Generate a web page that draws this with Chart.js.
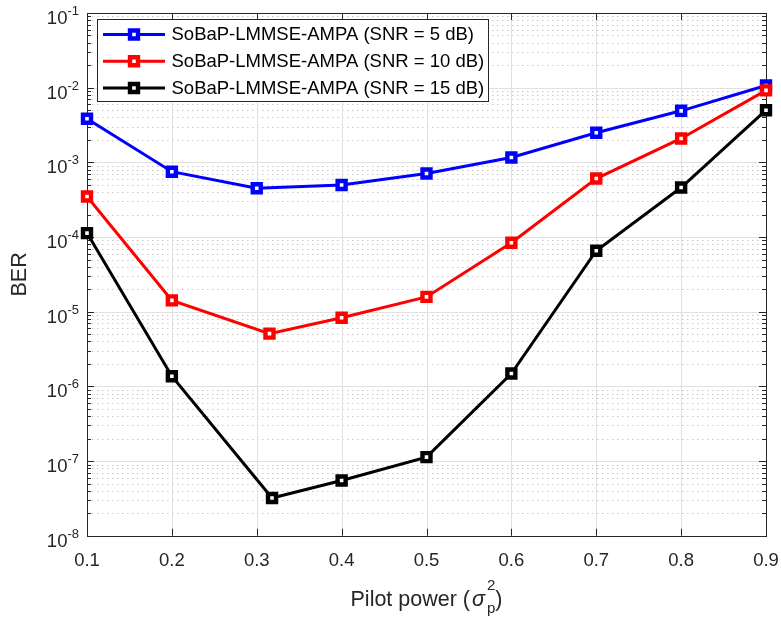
<!DOCTYPE html>
<html><head><meta charset="utf-8">
<script src="https://cdn.jsdelivr.net/npm/chart.js@4.4.1/dist/chart.umd.min.js"></script>
<style>html,body{margin:0;padding:0;background:#fff;}#wrap{width:781px;height:620px;}</style>
</head><body><div id="wrap"><canvas id="c" width="781" height="620"></canvas></div>
<script>
// ---- data ----
const xTickValues = [0.1, 0.2, 0.3, 0.4, 0.5, 0.6, 0.7, 0.8, 0.9];
const yDecadeExponents = [-8, -7, -6, -5, -4, -3, -2, -1];
const seriesLabels = [
  'SoBaP-LMMSE-AMPA (SNR = 5 dB)',
  'SoBaP-LMMSE-AMPA (SNR = 10 dB)',
  'SoBaP-LMMSE-AMPA (SNR = 15 dB)'
];
const pilotPowerSnr5  = [0.1, 0.2, 0.3,   0.4, 0.5, 0.6, 0.7, 0.8, 0.9];
const pilotPowerSnr10 = [0.1, 0.2, 0.315, 0.4, 0.5, 0.6, 0.7, 0.8, 0.9];
const pilotPowerSnr15 = [0.1, 0.2, 0.318, 0.4, 0.5, 0.6, 0.7, 0.8, 0.9];
const berSnr5  = [3.83e-3, 7.5e-4, 4.5e-4, 4.98e-4, 7.1e-4, 1.16e-3, 2.49e-3, 4.9e-3, 1.07e-2];
const berSnr10 = [3.49e-4, 1.42e-5, 5.09e-6, 8.3e-6, 1.58e-5, 8.4e-5, 6.07e-4, 2.09e-3, 9.2e-3];
const berSnr15 = [1.13e-4, 1.37e-6, 3.21e-8, 5.5e-8, 1.13e-7, 1.49e-6, 6.57e-5, 4.6e-4, 4.99e-3];
const seriesColors = ['#0000ff', '#ff0000', '#000000'];

// ---- styling ----
const FONT = '"Liberation Sans", Arial, Helvetica, sans-serif';
const AX = '#262626';
const TICK_FS = 18.5;
const LABEL_FS = 21.5;

function pts(xs, ys) { return xs.map((x, i) => ({ x: x, y: ys[i] })); }
const seriesX = [pilotPowerSnr5, pilotPowerSnr10, pilotPowerSnr15];
const seriesY = [berSnr5, berSnr10, berSnr15];

const datasets = seriesLabels.map((lab, i) => ({
  label: lab,
  data: pts(seriesX[i], seriesY[i]),
  borderColor: seriesColors[i],
  backgroundColor: '#ffffff',
  pointBorderColor: seriesColors[i],
  pointBackgroundColor: '#ffffff',
  borderWidth: 3,
  pointStyle: 'rect',
  pointRadius: 5.66,
  pointHoverRadius: 5.66,
  pointBorderWidth: 4.4,
  tension: 0,
  fill: false,
  clip: false,
  order: 3 - i
}));

const matlabAxes = {
  id: 'matlabAxes',
  beforeDraw(chart) {
    const c = chart.ctx; c.save(); c.fillStyle = '#fff'; c.fillRect(0, 0, chart.width, chart.height); c.restore();
  },
  beforeDatasetsDraw(chart) {
    const { ctx, chartArea: a, scales: { x, y } } = chart;
    ctx.save();
    ctx.lineWidth = 1;
    // minor dotted horizontal grid
    ctx.strokeStyle = '#c8c8c8';
    ctx.setLineDash([1.5, 3.5]);
    for (const e of yDecadeExponents) {
      if (e === -1) continue;
      for (let k = 2; k <= 9; k++) {
        const py = Math.round(y.getPixelForValue(k * Math.pow(10, e))) + 0.5;
        ctx.beginPath(); ctx.moveTo(a.left, py); ctx.lineTo(a.right, py); ctx.stroke();
      }
    }
    ctx.setLineDash([]);
    // major grid
    ctx.strokeStyle = '#e0e0e0';
    for (const e of yDecadeExponents) {
      const py = Math.round(y.getPixelForValue(Math.pow(10, e))) + 0.5;
      ctx.beginPath(); ctx.moveTo(a.left, py); ctx.lineTo(a.right, py); ctx.stroke();
    }
    for (const v of xTickValues) {
      const px = Math.round(x.getPixelForValue(v)) + 0.5;
      ctx.beginPath(); ctx.moveTo(px, a.top); ctx.lineTo(px, a.bottom); ctx.stroke();
    }
    // tick marks inside
    ctx.strokeStyle = AX;
    for (const v of xTickValues) {
      const px = Math.round(x.getPixelForValue(v)) + 0.5;
      ctx.beginPath(); ctx.moveTo(px, a.bottom); ctx.lineTo(px, a.bottom - 7); ctx.stroke();
      ctx.beginPath(); ctx.moveTo(px, a.top); ctx.lineTo(px, a.top + 7); ctx.stroke();
    }
    for (const e of yDecadeExponents) {
      for (let k = 1; k <= 9; k++) {
        if (e === -1 && k > 1) continue;
        const len = k === 1 ? 7 : 4;
        const py = Math.round(y.getPixelForValue(k * Math.pow(10, e))) + 0.5;
        ctx.beginPath(); ctx.moveTo(a.left, py); ctx.lineTo(a.left + len, py); ctx.stroke();
        ctx.beginPath(); ctx.moveTo(a.right, py); ctx.lineTo(a.right - len, py); ctx.stroke();
      }
    }
    // box
    ctx.strokeRect(Math.round(a.left) + 0.5, Math.round(a.top) + 0.5,
                   Math.round(a.right - a.left), Math.round(a.bottom - a.top));
    ctx.restore();
  },
  afterDatasetsDraw(chart) {
    const ctx = chart.ctx;
    ctx.save();
    // legend
    ctx.fillStyle = '#fff';
    ctx.fillRect(97.5, 19.5, 391, 82);
    ctx.strokeStyle = AX; ctx.lineWidth = 1;
    ctx.strokeRect(97.5, 19.5, 391, 82);
    const rows = [34.5, 61.3, 88];
    seriesLabels.forEach((lab, i) => {
      const ry = rows[i];
      ctx.strokeStyle = seriesColors[i]; ctx.lineWidth = 3;
      ctx.beginPath(); ctx.moveTo(103, ry); ctx.lineTo(165, ry); ctx.stroke();
      ctx.fillStyle = '#fff'; ctx.lineWidth = 4.4;
      ctx.beginPath(); ctx.rect(134 - 4, ry - 4, 8, 8); ctx.fill(); ctx.stroke();
      ctx.fillStyle = '#000';
      ctx.font = TICK_FS + 'px ' + FONT;
      ctx.textAlign = 'left'; ctx.textBaseline = 'middle';
      ctx.fillText(lab, 171.5, ry + 0.5);
    });
    ctx.restore();
  },
  afterDraw(chart) {
    const { ctx, chartArea: a, scales: { y } } = chart;
    ctx.save();
    ctx.fillStyle = AX;
    ctx.textBaseline = 'alphabetic';
    // y tick labels 10^e
    for (const e of yDecadeExponents) {
      const py = y.getPixelForValue(Math.pow(10, e));
      const expTxt = String(e);
      ctx.font = '13px ' + FONT;
      const we = ctx.measureText(expTxt).width;
      const xe = a.left - 8 - we;
      ctx.textAlign = 'left';
      ctx.fillText(expTxt, xe, py + 2);
      ctx.font = TICK_FS + 'px ' + FONT;
      ctx.textAlign = 'right';
      ctx.fillText('10', xe, py + 11);
    }
    // y axis title
    ctx.save();
    ctx.translate(20, (a.top + a.bottom) / 2);
    ctx.rotate(-Math.PI / 2);
    ctx.font = LABEL_FS + 'px ' + FONT;
    ctx.textAlign = 'center'; ctx.textBaseline = 'middle';
    ctx.fillText('BER', 0, 0);
    ctx.restore();
    // x axis title: Pilot power (σ_p^2)
    const base = 606;
    const f1 = LABEL_FS + 'px ' + FONT, fs = 'italic ' + LABEL_FS + 'px ' + FONT, fsc = '15px ' + FONT;
    ctx.font = f1; const w1 = ctx.measureText('Pilot power (').width;
    ctx.font = fs; const w2 = ctx.measureText('\u03C3').width;
    ctx.font = fsc; const w3 = Math.max(ctx.measureText('2').width, ctx.measureText('p').width);
    ctx.font = f1; const w4 = ctx.measureText(')').width;
    const total = w1 + 2 + w2 + 2 + w3 + w4;
    let cx = (a.left + a.right) / 2 - total / 2;
    ctx.textAlign = 'left'; ctx.textBaseline = 'alphabetic';
    ctx.font = f1; ctx.fillText('Pilot power (', cx, base); cx += w1 + 2;
    ctx.font = fs; ctx.fillText('\u03C3', cx, base); cx += w2 + 2;
    ctx.font = fsc; ctx.fillText('2', cx, base - 16); ctx.fillText('p', cx, base + 7); cx += w3;
    ctx.font = f1; ctx.fillText(')', cx, base);
    ctx.restore();
  }
};

new Chart(document.getElementById('c'), {
  type: 'line',
  data: { datasets: datasets },
  options: {
    responsive: false,
    animation: false,
    devicePixelRatio: 1,
    events: [],
    layout: { padding: { left: 87, right: 15, top: 13, bottom: 34 } },
    plugins: { legend: { display: false }, tooltip: { enabled: false } },
    scales: {
      x: {
        type: 'linear', min: 0.1, max: 0.9,
        afterBuildTicks: s => { s.ticks = xTickValues.map(v => ({ value: v })); },
        afterFit: s => { s.paddingLeft = 0; s.paddingRight = 0; },
        grid: { display: false, drawTicks: false },
        border: { display: false },
        ticks: {
          font: { family: FONT, size: TICK_FS }, color: AX, padding: 14,
          maxRotation: 0, autoSkip: false,
          callback: v => Number(v).toFixed(1)
        }
      },
      y: {
        type: 'logarithmic', min: 1e-8, max: 1e-1,
        grid: { display: false, drawTicks: false },
        border: { display: false },
        ticks: { display: false }
      }
    }
  },
  plugins: [matlabAxes]
});
</script>
</body></html>
